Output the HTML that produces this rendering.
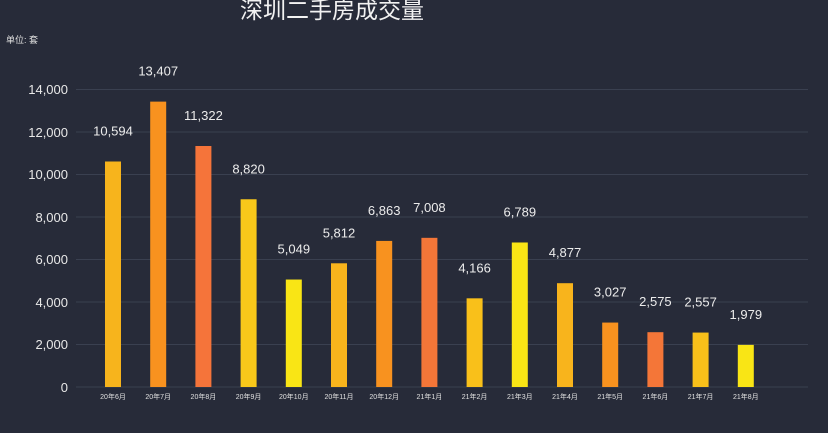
<!DOCTYPE html><html><head><meta charset="utf-8"><style>
body{margin:0;width:828px;height:428px;background:#272b39;overflow:hidden;font-family:"Liberation Sans","Noto Sans CJK SC",sans-serif;}
</style></head><body>
<svg width="828" height="428" xmlns="http://www.w3.org/2000/svg" font-family="Liberation Sans, Noto Sans CJK SC, sans-serif">
<text x="240" y="18" font-size="23" fill="#f2f2f2">深圳二手房成交量</text>
<text x="6" y="43" font-size="9" fill="#e0e0e0">单位: 套</text>
<g stroke="#3a4050" stroke-width="1">
<line x1="76" y1="89.5" x2="808" y2="89.5"/><line x1="76" y1="132" x2="808" y2="132"/><line x1="76" y1="174.5" x2="808" y2="174.5"/><line x1="76" y1="217" x2="808" y2="217"/><line x1="76" y1="259.5" x2="808" y2="259.5"/><line x1="76" y1="302" x2="808" y2="302"/><line x1="76" y1="344.5" x2="808" y2="344.5"/><line x1="76" y1="387" x2="808" y2="387"/>
</g>
<g font-size="13" fill="#e8e8e8" text-anchor="end">
<text x="68" y="94">14,000</text><text x="68" y="137">12,000</text><text x="68" y="179">10,000</text><text x="68" y="222">8,000</text><text x="68" y="264">6,000</text><text x="68" y="307">4,000</text><text x="68" y="349">2,000</text><text x="68" y="392">0</text>
</g>
<g id="bars"></g>
</svg>
<script>
const v=[10594,13407,11322,8820,5049,5812,6863,7008,4166,6789,4877,3027,2575,2557,1979];
const l=["20年6月","20年7月","20年8月","20年9月","20年10月","20年11月","20年12月","21年1月","21年2月","21年3月","21年4月","21年5月","21年6月","21年7月","21年8月"];
const c=["#f7b41c","#f8921f","#f5743a","#f8c81a","#f9e515","#f8b41c","#f8921f","#f47638","#f9c01a","#f9e515","#f8b41c","#f8921f","#f47638","#f8c01a","#f9e515"];
let s="";
v.forEach((d,i)=>{const cx=113+i*45.2,h=d*298/14000,t=387-h;
s+=`<rect x="${cx-8}" y="${t}" width="16" height="${h}" fill="${c[i]}"/>`;
s+=`<text x="${cx}" y="${t-26}" font-size="13" fill="#ececec" text-anchor="middle">${d.toLocaleString('en-US')}</text>`;
s+=`<text x="${cx}" y="399" font-size="7" fill="#e0e0e0" text-anchor="middle">${l[i]}</text>`;});
document.getElementById("bars").innerHTML=s;
</script>
</body></html>
